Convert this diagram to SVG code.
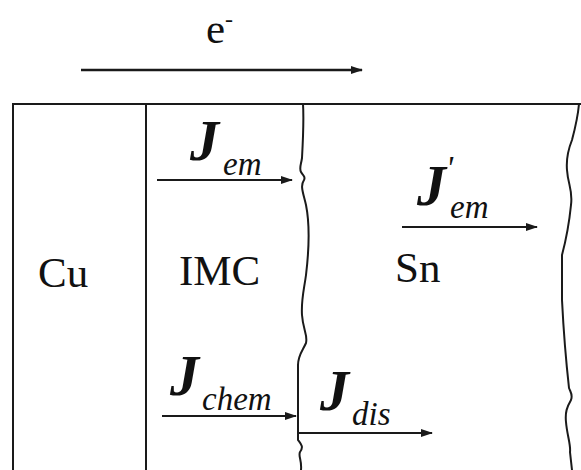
<svg xmlns="http://www.w3.org/2000/svg" width="581" height="470" viewBox="0 0 581 470">
<style>
.ln{stroke:#1a1a1a;stroke-width:2;fill:none}
.ar{stroke:#1a1a1a;stroke-width:2;fill:none;marker-end:url(#ah)}
.lbl{font-family:"Liberation Serif","Times New Roman",serif;font-size:43px;fill:#111}
.J{font-family:"Liberation Serif","Times New Roman",serif;font-style:italic;font-weight:bold;font-size:58px;fill:#111}
.sub{font-family:"Liberation Serif","Times New Roman",serif;font-style:italic;font-size:33px;fill:#111}
</style>
<defs>
<marker id="ah" markerWidth="12" markerHeight="8" refX="11" refY="4" orient="auto" markerUnits="userSpaceOnUse">
<path d="M0,0 L12,4 L0,8 Z" fill="#1a1a1a"/>
</marker>
</defs>
<g id="frame">
<path class="ln" d="M12,104 L581,104"/>
<path class="ln" d="M13,104 L13,470"/>
<path class="ln" d="M146,104 L146,470"/>
<path class="ln" d="M303,104 C304,120 303,140 302,158 C301,165 299,168 301,172 C303,176 306,176 304,180 C300,186 303,192 306,205 C310,225 309,250 306,275 C304,290 301,300 302,315 C303,330 308,335 306,343 C303,350 298,355 298,365 L298,440 C301,444 304,447 300,452 C298,456 302,460 301,470"/>
<path class="ln" d="M579,104 C578,115 576,125 572,140 C568,150 566,158 567,170 C568,185 573,190 571,205 C569,225 566,240 562,255 L562,300 C564,340 567,370 569,388 C571,393 573,395 571,400 C567,407 565,412 566,422 C567,435 571,445 570,452 L572,470"/>
</g>
<g id="electron">
<text class="lbl" x="206" y="43" font-size="40">e<tspan font-size="24" dy="-16">-</tspan></text>
</g>
<g id="cu"><text class="lbl" x="38" y="287">Cu</text></g>
<g id="imc"><text class="lbl" x="179" y="285">IMC</text></g>
<g id="sn"><text class="lbl" x="395" y="282">Sn</text></g>
<g id="jem">
<text class="J" x="190" y="160">J</text>
<text class="sub" x="223" y="175">em</text>
</g>
<g id="jem2">
<text class="J" x="417" y="205">J<tspan class="sub" font-weight="normal" font-size="30" dx="0" dy="-26">'</tspan></text>
<text class="sub" x="450" y="218">em</text>
</g>
<g id="jchem">
<text class="J" x="170" y="395">J</text>
<text class="sub" x="202" y="410">chem</text>
</g>
<g id="jdis">
<text class="J" x="320" y="410">J</text>
<text class="sub" x="352" y="425">dis</text>
</g>
<g id="connectors">
<path class="ar" d="M81,70 L362,70" style="stroke-width:2.5"/>
<path class="ar" d="M157,180 L292,180"/>
<path class="ar" d="M402,227 L537,227"/>
<path class="ar" d="M162,416 L296,416"/>
<path class="ar" d="M298,433 L432,433"/>
</g>
</svg>
